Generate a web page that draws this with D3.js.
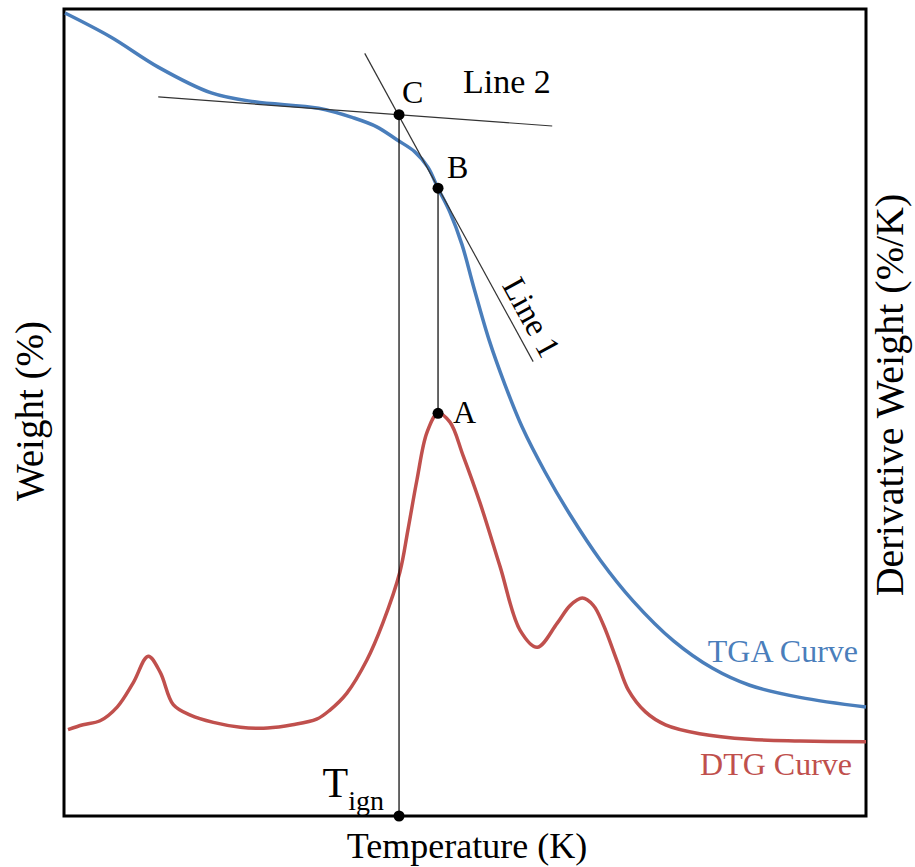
<!DOCTYPE html>
<html>
<head>
<meta charset="utf-8">
<script src="https://cdn.jsdelivr.net/npm/d3@7"></script>
<style>
  body { margin: 0; background: #fff; }
  text { font-family: "Liberation Serif", "Times New Roman", serif; }
</style>
</head>
<body>
<svg id="svg" width="915" height="867"></svg>
<script>
// temperature (K), weight (%) for the TGA curve
var tgaTemp = [301, 347, 394, 447, 490, 554, 589, 612, 632, 650, 663, 673, 685, 697, 709, 724, 740, 757, 780, 805, 835, 868, 908, 947, 984, 1034, 1100];
var tgaWeight = [99.5, 96.5, 92.8, 89.6, 88.5, 87.7, 86.5, 85.4, 83.8, 82.3, 80.4, 77.8, 74.8, 70.8, 65.4, 59.0, 53.4, 48.2, 42.6, 37.3, 31.7, 26.6, 21.7, 18.3, 16.2, 14.7, 13.5];

// temperature (K), derivative weight (%/K) for the DTG curve
var dtgTemp = [304, 319, 336, 353, 369, 384, 396, 409, 426, 449, 476, 503, 528, 552, 565, 582, 602, 618, 635, 643, 652, 662, 673, 685, 698, 715, 735, 755, 772, 792, 805, 817, 828, 838, 852, 863, 880, 900, 934, 984, 1034, 1100];
var dtgDeriv = [0.107, 0.113, 0.118, 0.135, 0.165, 0.198, 0.178, 0.138, 0.125, 0.116, 0.110, 0.109, 0.113, 0.120, 0.131, 0.152, 0.193, 0.239, 0.302, 0.354, 0.416, 0.475, 0.499, 0.488, 0.447, 0.388, 0.309, 0.230, 0.209, 0.239, 0.261, 0.270, 0.261, 0.237, 0.191, 0.156, 0.129, 0.113, 0.102, 0.095, 0.093, 0.092];

// tangent lines: [temp, weight] end points
var line1 = [[600, 94.5], [768, 56.3]];
var line2 = [[394, 89.1], [787, 85.5]];

// marked points
var tIgn = 634.2;
var pointA = [673.1, 0.499];   // DTG peak
var pointB = [673.1, 77.8];    // TGA at peak temperature
var pointC = [634.2, 86.9];    // intersection of the tangents

var blue = "#4a7ebb", red = "#c0504d";

var svg = d3.select("#svg");

var x = d3.scaleLinear().domain([300, 1100]).range([64, 866]);
var yW = d3.scaleLinear().domain([0, 100]).range([816, 9]);
var yD = d3.scaleLinear().domain([0, 1]).range([816, 9]);

var tga = tgaTemp.map(function(t, i) { return [t, tgaWeight[i]]; });
var dtg = dtgTemp.map(function(t, i) { return [t, dtgDeriv[i]]; });

var tgaLine = d3.line()
    .x(function(d) { return x(d[0]); })
    .y(function(d) { return yW(d[1]); })
    .curve(d3.curveCatmullRom.alpha(0.5));

var dtgLine = d3.line()
    .x(function(d) { return x(d[0]); })
    .y(function(d) { return yD(d[1]); })
    .curve(d3.curveCatmullRom.alpha(0.5));

// frame
svg.append("rect")
    .attr("x", x.range()[0])
    .attr("y", yW.range()[1])
    .attr("width", x.range()[1] - x.range()[0])
    .attr("height", yW.range()[0] - yW.range()[1])
    .attr("fill", "none")
    .attr("stroke", "#000")
    .attr("stroke-width", 3);

// curves
svg.append("path").datum(dtg)
    .attr("d", dtgLine)
    .attr("fill", "none")
    .attr("stroke", red)
    .attr("stroke-width", 3.5);

svg.append("path").datum(tga)
    .attr("d", tgaLine)
    .attr("fill", "none")
    .attr("stroke", blue)
    .attr("stroke-width", 3.5);

// tangents
[line1, line2].forEach(function(l) {
    svg.append("line")
        .attr("x1", x(l[0][0])).attr("y1", yW(l[0][1]))
        .attr("x2", x(l[1][0])).attr("y2", yW(l[1][1]))
        .attr("stroke", "#333")
        .attr("stroke-width", 1.2);
});

// vertical guides
svg.append("line")
    .attr("x1", x(tIgn)).attr("y1", yW(pointC[1]))
    .attr("x2", x(tIgn)).attr("y2", yW.range()[0])
    .attr("stroke", "#000").attr("stroke-width", 1.2);

svg.append("line")
    .attr("x1", x(pointB[0])).attr("y1", yW(pointB[1]))
    .attr("x2", x(pointA[0])).attr("y2", yD(pointA[1]))
    .attr("stroke", "#000").attr("stroke-width", 1.2);

// dots
var dots = [
    [x(pointC[0]), yW(pointC[1])],
    [x(pointB[0]), yW(pointB[1])],
    [x(pointA[0]), yD(pointA[1])],
    [x(tIgn), yW.range()[0]]
];
svg.selectAll(".dot").data(dots).enter().append("circle")
    .attr("class", "dot")
    .attr("cx", function(d) { return d[0]; })
    .attr("cy", function(d) { return d[1]; })
    .attr("r", 5.5)
    .attr("fill", "#000");

// point labels
function label(txt, px, py, size, color, anchor) {
    return svg.append("text")
        .attr("x", px).attr("y", py)
        .attr("font-size", size)
        .attr("fill", color || "#000")
        .attr("text-anchor", anchor || "start")
        .text(txt);
}

label("C", x(pointC[0]) + 3, yW(pointC[1]) - 12, 32);
label("Line 2", 463, 93, 34);
label("B", x(pointB[0]) + 9, yW(pointB[1]) - 10, 32);
label("A", x(pointA[0]) + 15, yD(pointA[1]) + 10, 32);

// Line 1 label, rotated along the tangent
var ang = Math.atan2(yW(line1[1][1]) - yW(line1[0][1]), x(line1[1][0]) - x(line1[0][0])) * 180 / Math.PI;
svg.append("text")
    .attr("transform", "translate(532,317) rotate(" + ang + ")")
    .attr("text-anchor", "middle")
    .attr("dy", "0.35em")
    .attr("font-size", 33)
    .text("Line 1");

label("TGA Curve", 858, 662, 32, blue, "end");
label("DTG Curve", 852, 775, 32, red, "end");

// T_ign
var tl = svg.append("text")
    .attr("x", x(tIgn) - 15)
    .attr("y", 797)
    .attr("text-anchor", "end")
    .attr("font-size", 42);
tl.append("tspan").text("T");
tl.append("tspan").attr("font-size", 28).attr("dy", 13).text("ign");

// axis titles
svg.append("text")
    .attr("x", 467).attr("y", 858)
    .attr("text-anchor", "middle")
    .attr("font-size", 36)
    .text("Temperature (K)");

svg.append("text")
    .attr("transform", "translate(43,411) rotate(-90)")
    .attr("text-anchor", "middle")
    .attr("font-size", 39)
    .text("Weight (%)");

svg.append("text")
    .attr("transform", "translate(903,395) rotate(-90)")
    .attr("text-anchor", "middle")
    .attr("font-size", 40)
    .text("Derivative Weight (%/K)");
</script>
</body>
</html>
